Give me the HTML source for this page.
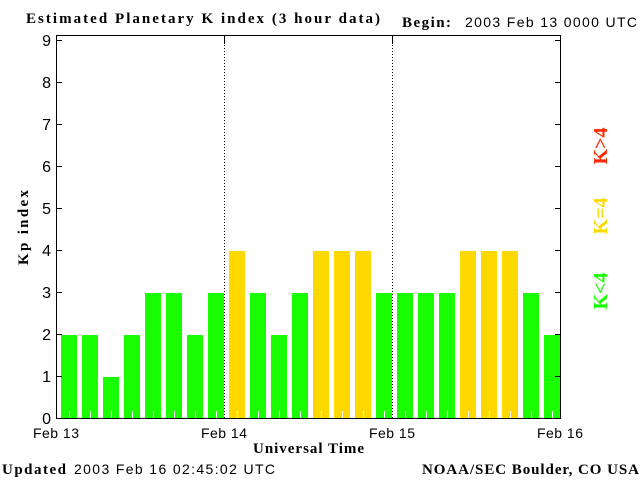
<!DOCTYPE html>
<html><head><style>body{margin:0;background:#fff}svg{display:block}</style></head><body>
<svg width="640" height="480" xmlns="http://www.w3.org/2000/svg">
<rect width="640" height="480" fill="#fff"/>
<g fill="#1aff00">
<rect x="61" y="335" width="16" height="84"/>
<rect x="82" y="335" width="16" height="84"/>
<rect x="103" y="377" width="16" height="42"/>
<rect x="124" y="335" width="16" height="84"/>
<rect x="145" y="293" width="16" height="126"/>
<rect x="166" y="293" width="16" height="126"/>
<rect x="187" y="335" width="16" height="84"/>
<rect x="208" y="293" width="16" height="126"/>
<rect x="250" y="293" width="16" height="126"/>
<rect x="271" y="335" width="16" height="84"/>
<rect x="292" y="293" width="16" height="126"/>
<rect x="376" y="293" width="16" height="126"/>
<rect x="397" y="293" width="16" height="126"/>
<rect x="418" y="293" width="16" height="126"/>
<rect x="439" y="293" width="16" height="126"/>
<rect x="523" y="293" width="16" height="126"/>
<rect x="544" y="335" width="16" height="84"/>
</g>
<g fill="#ffd800">
<rect x="229" y="251" width="16" height="168"/>
<rect x="313" y="251" width="16" height="168"/>
<rect x="334" y="251" width="16" height="168"/>
<rect x="355" y="251" width="16" height="168"/>
<rect x="460" y="251" width="16" height="168"/>
<rect x="481" y="251" width="16" height="168"/>
<rect x="502" y="251" width="16" height="168"/>
</g>
<path stroke="#fff" stroke-width="1" d="M69.5 411v8M90.5 411v8M111.5 411v8M132.5 411v8M153.5 411v8M174.5 411v8M195.5 411v8M216.5 411v8M237.5 411v8M258.5 411v8M279.5 411v8M300.5 411v8M321.5 411v8M342.5 411v8M363.5 411v8M384.5 411v8M405.5 411v8M426.5 411v8M447.5 411v8M468.5 411v8M489.5 411v8M510.5 411v8M531.5 411v8M552.5 411v8"/>
<g stroke="#000" stroke-width="1" fill="none" shape-rendering="crispEdges">
<rect x="56.5" y="35.5" width="504" height="383"/>
<line x1="224.5" y1="36" x2="224.5" y2="418" stroke-dasharray="1,2"/>
<line x1="392.5" y1="36" x2="392.5" y2="418" stroke-dasharray="1,2"/>
<line x1="224.5" y1="36" x2="224.5" y2="44"/>
<line x1="392.5" y1="36" x2="392.5" y2="44"/>
<path d="M57 418.5h5M57 376.5h5M57 334.5h5M57 292.5h5M57 250.5h5M57 208.5h5M57 166.5h5M57 124.5h5M57 82.5h5M57 40.5h5M555 418.5h5M555 376.5h5M555 334.5h5M555 292.5h5M555 250.5h5M555 208.5h5M555 166.5h5M555 124.5h5M555 82.5h5M555 40.5h5"/>
</g>
<g font-family="Liberation Sans, sans-serif" font-size="16" fill="#000" text-anchor="end">
<text x="51" y="424">0</text><text x="51" y="382">1</text><text x="51" y="340">2</text>
<text x="51" y="298">3</text><text x="51" y="256">4</text><text x="51" y="214">5</text>
<text x="51" y="172">6</text><text x="51" y="130">7</text><text x="51" y="88">8</text>
<text x="51" y="46">9</text>
</g>
<g font-family="Liberation Sans, sans-serif" font-size="14" fill="#000">
<text x="33" y="438" textLength="46">Feb 13</text>
<text x="201" y="438" textLength="46">Feb 14</text>
<text x="369" y="438" textLength="46">Feb 15</text>
<text x="537" y="438" textLength="46">Feb 16</text>
<text x="465" y="27" textLength="172">2003 Feb 13 0000 UTC</text>
<text x="74" y="474" textLength="201">2003 Feb 16 02:45:02 UTC</text>
</g>
<g font-family="Liberation Serif, serif" font-weight="bold" font-size="15" fill="#000">
<text x="26" y="23" textLength="354">Estimated Planetary K index (3 hour data)</text>
<text x="402" y="27" textLength="49">Begin:</text>
<text x="2" y="474" textLength="64">Updated</text>
<text x="253" y="453" textLength="111">Universal Time</text>
<text x="422" y="474" textLength="217">NOAA/SEC Boulder, CO USA</text>
<text transform="translate(28,265) rotate(-90)" textLength="75">Kp index</text>
</g>
<g font-family="Liberation Serif, serif" font-weight="bold" font-size="20">
<text transform="translate(607,146) rotate(-90)" text-anchor="middle" fill="#ff2a00">K&gt;4</text>
<text transform="translate(607,216) rotate(-90)" text-anchor="middle" fill="#ffd800">K=4</text>
<text transform="translate(607,291) rotate(-90)" text-anchor="middle" fill="#1aff00">K&lt;4</text>
</g>
</svg>
</body></html>
